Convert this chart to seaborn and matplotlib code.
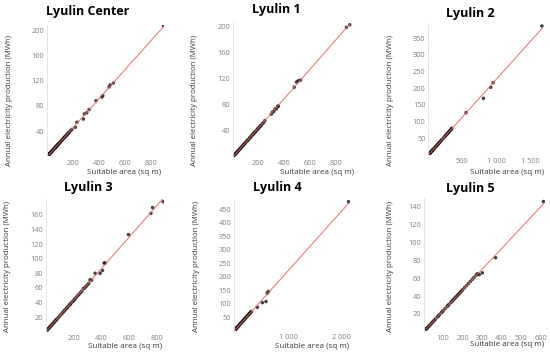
import matplotlib
matplotlib.use("Agg")
import matplotlib.pyplot as plt
from matplotlib.ticker import FuncFormatter
import seaborn as sns
import pandas as pd

sns.set_theme(style="white")
plt.rcParams['font.family'] = ['Open Sans', 'DejaVu Sans']

titles = ["Lyulin Center", "Lyulin 1", "Lyulin 2", "Lyulin 3", "Lyulin 4", "Lyulin 5"]

center_x = [12, 15, 18, 20, 22, 25, 28, 30, 33, 35, 38, 40, 43, 45, 48, 50, 55, 58, 60, 63, 66, 70, 72, 75, 78,
            80, 85, 88, 90, 95, 100, 105, 110, 115, 120, 125, 130, 135, 140, 145, 150, 155, 160, 165, 170, 180,
            190, 216, 229, 278, 286, 304, 322, 376, 420, 428, 477, 485, 510, 897]
center_y = [3, 3.5, 4, 4.6, 5.1, 5.5, 6.4, 6.9, 7.3, 8.0, 8.5, 9.2, 9.6, 10.3, 10.8, 11.5, 12.3, 13.3, 13.5, 14.4,
            14.8, 16.0, 16.2, 17.1, 17.5, 18.3, 19.1, 20.1, 20.4, 21.6, 22.3, 24.0, 24.8, 26.2, 27.0, 28.5, 29.3,
            30.8, 31.5, 33.0, 33.8, 35.2, 36.0, 37.5, 38.3, 40.8, 42.6, 46, 54, 59, 67, 69, 74, 88, 94, 96, 110,
            113, 116, 207]

l1_x = [10, 14, 18, 22, 26, 30, 34, 38, 42, 46, 50, 55, 60, 65, 70, 75, 80, 85, 90, 95, 100, 110, 115, 120, 130,
        135, 140, 150, 155, 160, 165, 170, 175, 180, 190, 195, 200, 210, 215, 220, 230, 240, 250, 300, 310, 320,
        330, 340, 350, 355, 478, 496, 509, 527, 884, 909]
l1_y = [2.3, 3.0, 4.1, 4.8, 5.9, 6.5, 7.6, 8.3, 9.4, 10.1, 11.2, 12.0, 13.4, 14.2, 15.6, 16.4, 17.9, 18.6, 20.1,
        20.8, 22.3, 24.2, 25.7, 26.3, 29.0, 29.6, 31.2, 32.8, 34.6, 35.0, 36.8, 37.3, 39.1, 39.4, 42.4, 42.7, 44.6,
        46.0, 48.0, 48.2, 51.3, 52.6, 55.8, 65.8, 69.1, 70.1, 73.6, 74.5, 78.0, 78.0, 107, 115, 117, 118, 199, 203]

l2_x = [15, 20, 25, 30, 35, 40, 45, 50, 55, 60, 65, 70, 80, 90, 100, 110, 120, 130, 140, 150, 160, 170, 180, 190,
        200, 220, 240, 250, 260, 270, 280, 290, 300, 310, 320, 330, 340, 345, 557, 813, 921, 956, 1675]
l2_y = [3.4, 4.6, 5.7, 6.9, 8.0, 9.1, 10.3, 11.4, 12.5, 13.7, 14.8, 16.0, 18.2, 20.5, 22.8, 25.1, 27.4, 29.6, 31.9,
        34.2, 36.5, 38.8, 41.0, 43.3, 45.6, 50.2, 54.7, 57.0, 59.3, 61.6, 63.8, 66.1, 68.4, 70.7, 73.0, 75.2, 77.5,
        80.0, 127, 170, 203, 217, 387]

l3_x = [10, 14, 18, 22, 26, 30, 35, 40, 45, 50, 55, 60, 65, 70, 75, 80, 90, 100, 110, 120, 127, 135, 140, 150, 155,
        160, 170, 175, 180, 190, 199, 205, 210, 220, 230, 240, 250, 260, 271, 280, 290, 300, 310, 319, 330, 355,
        391, 408, 420, 427, 595, 756, 768, 845]
l3_y = [2.2, 3.0, 3.9, 4.7, 5.6, 6.4, 7.5, 8.6, 9.6, 10.7, 11.8, 12.8, 13.9, 15.0, 16.1, 17.1, 19.3, 21.4, 23.5,
        25.7, 27.0, 28.9, 30.0, 32.1, 33.2, 34.2, 36.4, 37.5, 38.5, 40.7, 42.0, 43.9, 44.9, 47.1, 49.2, 51.4, 53.5,
        55.6, 59.0, 59.9, 62.1, 64.2, 66.3, 71.0, 70.6, 80, 80, 84, 94, 94, 133, 162, 170, 178]

l4_x = [15, 20, 25, 30, 35, 40, 45, 50, 60, 70, 80, 90, 100, 110, 120, 130, 140, 150, 160, 170, 180, 190, 200, 210,
        220, 230, 240, 250, 260, 270, 280, 290, 300, 310, 320, 432, 525, 593, 617, 636, 2123]
l4_y = [3.4, 4.5, 5.6, 6.8, 7.9, 9.0, 10.1, 11.3, 13.5, 15.8, 18.0, 20.3, 22.5, 24.8, 27.0, 29.3, 31.5, 33.8, 36.0,
        38.3, 40.5, 42.8, 45.0, 47.3, 49.5, 51.8, 54.0, 56.3, 58.5, 60.8, 63.0, 65.3, 67.5, 69.8, 72.0, 88, 105,
        109, 140, 146, 479]

l5_x = [12, 15, 18, 22, 25, 30, 35, 40, 45, 50, 55, 60, 70, 75, 80, 90, 95, 100, 110, 120, 125, 130, 140, 145, 150,
        155, 160, 165, 170, 175, 180, 185, 190, 195, 200, 210, 220, 230, 240, 250, 259, 270, 276, 285, 301, 369, 615]
l5_y = [2.8, 3.5, 4.2, 5.2, 5.9, 7.1, 8.2, 9.4, 10.6, 11.8, 12.9, 14.1, 16.5, 17.6, 18.8, 21.2, 22.3, 23.5, 25.9,
        28.2, 29.4, 30.6, 32.9, 34.1, 35.3, 36.4, 37.6, 38.8, 40.0, 41.1, 42.3, 43.5, 44.7, 45.8, 47.0, 49.4, 51.7,
        54.1, 56.4, 58.8, 61.0, 63.5, 65.0, 64.0, 66, 83, 146]

xs = [center_x, l1_x, l2_x, l3_x, l4_x, l5_x]
ys = [center_y, l1_y, l2_y, l3_y, l4_y, l5_y]

xticks = [[200, 400, 600, 800], [200, 400, 600, 800], [500, 1000, 1500],
          [200, 400, 600, 800], [1000, 2000], [100, 200, 300, 400, 500, 600]]
yticks = [[40, 80, 120, 160, 200], [40, 80, 120, 160, 200], [50, 100, 150, 200, 250, 300, 350],
          [20, 40, 60, 80, 100, 120, 140, 160], [50, 100, 150, 200, 250, 300, 350, 400, 450],
          [20, 40, 60, 80, 100, 120, 140]]
xlims = [900, 930, 1700, 850, 2150, 625]
ylims = [208, 208, 395, 182, 485, 150]

W, H = 550, 355
# pixel boxes: left, right, top, bottom
boxes = [(47.3, 164, 25, 156.3), (232.7, 352.4, 21.5, 157), (428.3, 543.6, 23.3, 155),
         (45.7, 164, 198.8, 331.7), (234, 350, 200, 331), (423.7, 545.4, 198, 331.7)]
title_pos = [(88, 12), (276, 10), (470, 14), (88, 188), (277, 188), (470, 189)]
ylab_pos = [(10, 100), (195, 100), (390, 100), (8, 266), (197, 266), (390, 266)]
xlab_pos = [(124, 172), (317, 172), (507, 172), (125, 346), (312, 346), (507, 345)]

fig = plt.figure(figsize=(W / 100, H / 100), dpi=100)
fig.patch.set_facecolor("white")


def fmt(v, pos):
    s = f"{int(v):,}".replace(",", " ")
    return s


for i in range(6):
    l, r, t, b = boxes[i]
    ax = fig.add_axes([l / W, 1 - b / H, (r - l) / W, (b - t) / H])
    df = pd.DataFrame({"area": xs[i], "prod": ys[i]})
    sns.regplot(data=df, x="area", y="prod", ax=ax, ci=None, truncate=True,
                scatter_kws=dict(s=6.5, color="#111111", edgecolor="none", zorder=2),
                line_kws=dict(color="#e06a64", lw=0.8, alpha=0.85, zorder=3))
    ax.set_xlim(0, xlims[i])
    ax.set_ylim(0, ylims[i])
    ax.set_xticks(xticks[i])
    ax.set_yticks(yticks[i])
    ax.xaxis.set_major_formatter(FuncFormatter(fmt))
    ax.set_xlabel("")
    ax.set_ylabel("")
    ax.tick_params(axis="both", length=0, labelsize=5.3, labelcolor="#808080")
    ax.tick_params(axis="x", pad=2.5)
    ax.tick_params(axis="y", pad=2)
    for s in ["top", "right", "bottom"]:
        ax.spines[s].set_visible(False)
    ax.spines["left"].set_color("#e2e2e2")
    ax.spines["left"].set_linewidth(0.6)
    ax.set_facecolor("none")

    tx, ty = title_pos[i]
    fig.text(tx / W, 1 - ty / H, titles[i], ha="center", va="center",
             fontsize=9, fontweight="bold", color="black")
    yx, yy = ylab_pos[i]
    fig.text(yx / W, 1 - yy / H, "Annual electricity production (MWh)", ha="center", va="center",
             rotation=90, fontsize=5.7, color="#3a3a3a")
    xx, xy = xlab_pos[i]
    fig.text(xx / W, 1 - xy / H, "Suitable area (sq m)", ha="center", va="center",
             fontsize=5.8, color="#3a3a3a")

fig.savefig("out.png", dpi=100, facecolor="white")
